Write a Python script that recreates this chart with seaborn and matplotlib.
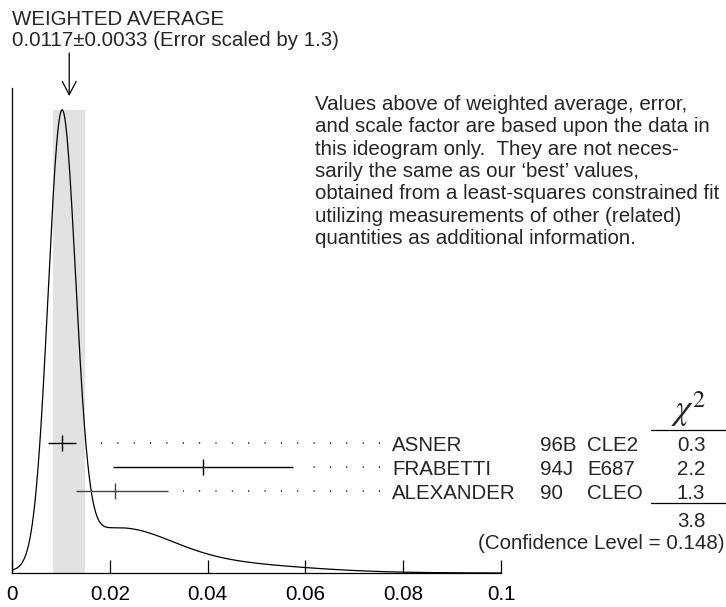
## Librerías

import numpy as np
import matplotlib
matplotlib.use("Agg")
import matplotlib.pyplot as plt
import matplotlib.transforms as mtransforms
from matplotlib.lines import Line2D
import seaborn as sns

## Datos del ideograma

names = ["ASNER", "FRABETTI", "ALEXANDER"]
years = ["96B", "94J", "90"]
expts = ["CLE2", "E687", "CLEO"]
values = [0.0102, 0.039, 0.021]
err_lo = [0.0028, 0.0184, 0.008]
err_hi = [0.0028, 0.0184, 0.011]
chi2 = ["0.3", "2.2", "1.3"]
bar_colors = ["black", "black", "#444444"]

avg = 0.0117
avg_err = 0.0033
scale_factor = 1.3
chi2_total = "3.8"
conf_level = 0.148

xticks = [0, 0.02, 0.04, 0.06, 0.08, 0.1]
xtick_labels = ["0", "0.02", "0.04", "0.06", "0.08", "0.1"]

note = ["Values above of weighted average, error,",
        "and scale factor are based upon the data in",
        "this ideogram only.  They are not neces-",
        "sarily the same as our \u2018best\u2019 values,",
        "obtained from a least-squares constrained fit",
        "utilizing measurements of other (related)",
        "quantities as additional information."]

## Curva del ideograma (gaussianas con área proporcional a 1/sigma)

x = np.linspace(0, 0.1, 2001)
ideo = np.zeros_like(x)
for v, lo, hi in zip(values, err_lo, err_hi):
    s = np.where(x < v, lo, hi)
    sm = (lo + hi) / 2
    ideo += np.exp(-0.5 * ((x - v) / s) ** 2) / sm ** 2
ideo = ideo / ideo.max()

## Figura

W, H = 726, 607
fs = 14.8

sns.set_style("white")
plt.rcParams["font.family"] = ["Liberation Sans", "DejaVu Sans"]
plt.rcParams["mathtext.fontset"] = "stix"

fig = plt.figure(figsize=(W / 100, H / 100), dpi=100)
ax = fig.add_axes([12 / W, 34 / H, 489 / W, 485 / H])

def fx(px):
    return px / W

def fy(py):
    return 1 - py / H

# Banda del promedio ponderado
ax.fill_between([avg - avg_err, avg + avg_err], 0, ideo.max(), color="#e2e2e2", lw=0, zorder=0)

sns.lineplot(x=x, y=ideo, ax=ax, color="black", lw=0.9, zorder=2)

ax.set_xlim(0, 0.1)
ax.set_ylim(0, 1.047)
ax.set_xticks(xticks, xtick_labels)
ax.set_yticks([])
ax.tick_params(axis="x", bottom=True, direction="in", length=9.5, width=0.9, pad=9,
               labelsize=fs, colors="black")
for side in ["top", "right"]:
    ax.spines[side].set_visible(False)
for side in ["left", "bottom"]:
    ax.spines[side].set_linewidth(0.9)
    ax.spines[side].set_color("black")
ax.set_xlabel("")
ax.set_ylabel("")

# Filas de medidas
ax2 = ax.twinx()
ax2.set_ylim(-2.4167, 17.79)
ax2.set_yticks([])
for side in ax2.spines:
    ax2.spines[side].set_visible(False)

rows = [3, 2, 1]
dot_end = 0.0753
trans = mtransforms.blended_transform_factory(fig.transFigure, ax2.transData)

for y, name, yr, ex, v, lo, hi, c, ch in zip(rows, names, years, expts, values, err_lo, err_hi, bar_colors, chi2):
    ax2.errorbar(v, y, xerr=[[lo], [hi]], fmt="|", ms=12, mew=1.0, elinewidth=1.0,
                 color=c, ecolor=c, capsize=0)
    ax2.plot([dot_end, v + hi + 0.003], [y, y], color="black", lw=1.1,
             ls=(0, (0.7, 10.0)))
    ax2.text(fx(392), y - 0.35, name, transform=trans, fontsize=fs, va="baseline")
    ax2.text(fx(540), y - 0.35, yr, transform=trans, fontsize=fs, va="baseline")
    ax2.text(fx(587), y - 0.35, ex, transform=trans, fontsize=fs, va="baseline")
    ax2.text(fx(691), y - 0.35, ch, transform=trans, fontsize=fs, va="baseline", ha="center")

# Columna de chi2
fig.text(fx(689), fy(420), r"$\chi^2$", fontsize=25, ha="center", va="baseline")
fig.add_artist(Line2D([fx(651), 1], [fy(430), fy(430)], color="black", lw=0.9))
fig.add_artist(Line2D([fx(651), 1], [fy(503), fy(503)], color="black", lw=0.9))
fig.text(fx(691), fy(527), chi2_total, fontsize=fs, ha="center", va="baseline")
fig.text(fx(725), fy(549), f"(Confidence Level = {conf_level})", fontsize=fs, ha="right", va="baseline")

# Cabecera y flecha
fig.text(fx(12), fy(25), "WEIGHTED AVERAGE", fontsize=fs, va="baseline")
fig.text(fx(12), fy(46), f"{avg}\u00b1{avg_err:.4f} (Error scaled by {scale_factor})", fontsize=fs, va="baseline")
ax.annotate("", xy=(avg, H - 96), xytext=(avg, H - 53),
            xycoords=("data", "figure pixels"), textcoords=("data", "figure pixels"),
            arrowprops=dict(arrowstyle="->,head_length=0.95,head_width=0.5", lw=0.9,
                            color="black", shrinkA=0, shrinkB=0),
            annotation_clip=False)

# Nota explicativa
for i, line in enumerate(note):
    fig.text(fx(315), fy(110 + 22.3 * i), line, fontsize=fs, va="baseline")

plt.savefig("out.png", dpi=100)
